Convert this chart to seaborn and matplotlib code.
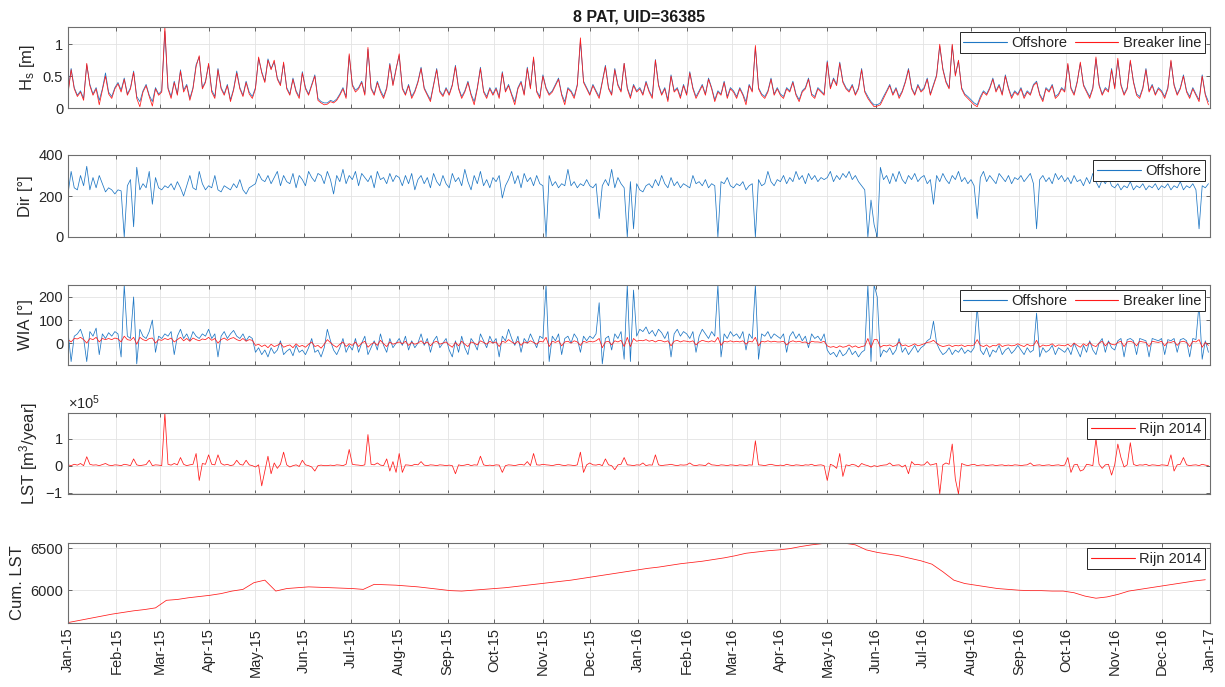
import numpy as np
import pandas as pd
import matplotlib
matplotlib.use("Agg")
import matplotlib.pyplot as plt
import matplotlib.dates as mdates
from matplotlib.lines import Line2D
from matplotlib.ticker import FormatStrFormatter
import seaborn as sns

# ---------------------------------------------------------------------------
# Wave / transport time series, 2-day samples from 2015-01-01 (one row per month)
# ---------------------------------------------------------------------------
hs_offshore = [
    0.25, 0.62, 0.32, 0.2, 0.27, 0.15, 0.68, 0.37, 0.22, 0.32, 0.12, 0.3, 0.55, 0.25, 0.18, 0.32,
    0.4, 0.28, 0.47, 0.22, 0.32, 0.58, 0.18, 0.1, 0.27, 0.37, 0.2, 0.1, 0.32, 0.22,
    0.27, 1.2, 0.32, 0.18, 0.42, 0.22, 0.6, 0.28, 0.37, 0.15, 0.32, 0.68, 0.8, 0.32, 0.42,
    0.68, 0.28, 0.18, 0.62, 0.32, 0.22, 0.37, 0.13, 0.3, 0.58, 0.32, 0.2, 0.42, 0.25, 0.18,
    0.32, 0.78, 0.57, 0.42, 0.77, 0.62, 0.72, 0.47, 0.37, 0.7, 0.32, 0.22, 0.47, 0.27, 0.18, 0.57,
    0.32, 0.22, 0.37, 0.52, 0.15, 0.1, 0.08, 0.08, 0.12, 0.1, 0.14, 0.22, 0.32, 0.18, 0.82,
    0.37, 0.28, 0.32, 0.42, 0.22, 0.92, 0.32, 0.22, 0.42, 0.28, 0.18, 0.32, 0.7, 0.37, 0.62,
    0.82, 0.32, 0.22, 0.37, 0.18, 0.27, 0.42, 0.64, 0.32, 0.22, 0.13, 0.37, 0.62, 0.27, 0.2, 0.32,
    0.22, 0.37, 0.67, 0.32, 0.18, 0.27, 0.42, 0.22, 0.1, 0.32, 0.64, 0.27, 0.18, 0.32, 0.22,
    0.32, 0.18, 0.57, 0.27, 0.37, 0.22, 0.1, 0.32, 0.42, 0.22, 0.64, 0.32, 0.78, 0.27, 0.18,
    0.52, 0.32, 0.22, 0.27, 0.37, 0.47, 0.22, 0.1, 0.32, 0.27, 0.18, 0.37, 1.05, 0.42, 0.32,
    0.22, 0.37, 0.27, 0.18, 0.42, 0.67, 0.32, 0.22, 0.62, 0.37, 0.27, 0.7, 0.32, 0.18, 0.37, 0.27,
    0.32, 0.22, 0.42, 0.27, 0.18, 0.76, 0.37, 0.22, 0.32, 0.13, 0.52, 0.27, 0.32, 0.18, 0.37,
    0.22, 0.57, 0.32, 0.18, 0.27, 0.37, 0.22, 0.47, 0.32, 0.13, 0.27, 0.22, 0.42, 0.18, 0.32,
    0.27, 0.18, 0.32, 0.22, 0.1, 0.37, 0.27, 0.95, 0.32, 0.22, 0.18, 0.27, 0.47, 0.22, 0.32,
    0.22, 0.18, 0.32, 0.27, 0.42, 0.22, 0.13, 0.27, 0.32, 0.47, 0.22, 0.18, 0.32, 0.27, 0.22,
    0.74, 0.32, 0.47, 0.37, 0.72, 0.42, 0.32, 0.27, 0.37, 0.22, 0.32, 0.62, 0.27, 0.18, 0.1, 0.05,
    0.05, 0.08, 0.18, 0.27, 0.37, 0.22, 0.32, 0.18, 0.27, 0.42, 0.62, 0.32, 0.22, 0.37, 0.27,
    0.32, 0.47, 0.22, 0.37, 0.52, 0.97, 0.62, 0.42, 0.32, 0.98, 0.52, 0.74, 0.32, 0.22, 0.18,
    0.13, 0.08, 0.05, 0.18, 0.27, 0.22, 0.32, 0.47, 0.27, 0.37, 0.22, 0.52, 0.32, 0.18, 0.27, 0.22,
    0.32, 0.18, 0.27, 0.22, 0.37, 0.42, 0.22, 0.13, 0.32, 0.27, 0.37, 0.18, 0.22, 0.32, 0.27,
    0.68, 0.32, 0.22, 0.42, 0.7, 0.37, 0.27, 0.18, 0.32, 0.77, 0.37, 0.22, 0.32, 0.27, 0.62,
    0.32, 0.75, 0.37, 0.22, 0.32, 0.73, 0.42, 0.22, 0.18, 0.32, 0.62, 0.27, 0.37, 0.22, 0.32,
    0.27, 0.18, 0.32, 0.73, 0.37, 0.22, 0.32, 0.52, 0.27, 0.18, 0.32, 0.22, 0.13, 0.52, 0.22, 0.1,
]

hs_breaker = [
    0.22, 0.6, 0.3, 0.18, 0.25, 0.12, 0.7, 0.35, 0.2, 0.3, 0.05, 0.28, 0.5, 0.22, 0.15, 0.3,
    0.38, 0.25, 0.45, 0.2, 0.3, 0.56, 0.15, 0.02, 0.25, 0.35, 0.18, 0.03, 0.3, 0.2,
    0.25, 1.27, 0.3, 0.15, 0.4, 0.2, 0.58, 0.25, 0.35, 0.12, 0.3, 0.65, 0.82, 0.3, 0.4,
    0.7, 0.25, 0.15, 0.6, 0.3, 0.2, 0.35, 0.1, 0.28, 0.55, 0.3, 0.18, 0.4, 0.22, 0.15,
    0.3, 0.8, 0.55, 0.4, 0.75, 0.6, 0.75, 0.45, 0.35, 0.72, 0.3, 0.2, 0.45, 0.25, 0.15, 0.55,
    0.3, 0.2, 0.35, 0.5, 0.12, 0.08, 0.05, 0.06, 0.1, 0.08, 0.12, 0.2, 0.3, 0.15, 0.85,
    0.35, 0.25, 0.3, 0.4, 0.2, 0.95, 0.3, 0.2, 0.4, 0.25, 0.15, 0.3, 0.68, 0.35, 0.6,
    0.85, 0.3, 0.2, 0.35, 0.15, 0.25, 0.4, 0.62, 0.3, 0.2, 0.1, 0.35, 0.6, 0.25, 0.18, 0.3,
    0.2, 0.35, 0.65, 0.3, 0.15, 0.25, 0.4, 0.2, 0.05, 0.3, 0.62, 0.25, 0.15, 0.3, 0.2,
    0.3, 0.15, 0.55, 0.25, 0.35, 0.2, 0.05, 0.3, 0.4, 0.2, 0.62, 0.3, 0.8, 0.25, 0.15,
    0.5, 0.3, 0.2, 0.25, 0.35, 0.45, 0.2, 0.05, 0.3, 0.25, 0.15, 0.35, 1.1, 0.4, 0.3,
    0.2, 0.35, 0.25, 0.15, 0.4, 0.65, 0.3, 0.2, 0.6, 0.35, 0.25, 0.7, 0.3, 0.15, 0.35, 0.25,
    0.3, 0.2, 0.4, 0.25, 0.15, 0.75, 0.35, 0.2, 0.3, 0.1, 0.5, 0.25, 0.3, 0.15, 0.35,
    0.2, 0.55, 0.3, 0.15, 0.25, 0.35, 0.2, 0.45, 0.3, 0.1, 0.25, 0.2, 0.4, 0.15, 0.3,
    0.25, 0.15, 0.3, 0.2, 0.05, 0.35, 0.25, 0.98, 0.3, 0.2, 0.15, 0.25, 0.45, 0.2, 0.3,
    0.2, 0.15, 0.3, 0.25, 0.4, 0.2, 0.1, 0.25, 0.3, 0.45, 0.2, 0.15, 0.3, 0.25, 0.2,
    0.72, 0.3, 0.45, 0.35, 0.7, 0.4, 0.3, 0.25, 0.35, 0.2, 0.3, 0.6, 0.25, 0.15, 0.08, 0.02,
    0.03, 0.05, 0.15, 0.25, 0.35, 0.2, 0.3, 0.15, 0.25, 0.4, 0.6, 0.3, 0.2, 0.35, 0.25,
    0.3, 0.45, 0.2, 0.35, 0.5, 1.0, 0.6, 0.4, 0.3, 1.0, 0.5, 0.75, 0.3, 0.2, 0.15,
    0.1, 0.05, 0.02, 0.15, 0.25, 0.2, 0.3, 0.45, 0.25, 0.35, 0.2, 0.5, 0.3, 0.15, 0.25, 0.2,
    0.3, 0.15, 0.25, 0.2, 0.35, 0.4, 0.2, 0.1, 0.3, 0.25, 0.35, 0.15, 0.2, 0.3, 0.25,
    0.7, 0.3, 0.2, 0.4, 0.72, 0.35, 0.25, 0.15, 0.3, 0.8, 0.35, 0.2, 0.3, 0.25, 0.6,
    0.3, 0.78, 0.35, 0.2, 0.3, 0.75, 0.4, 0.2, 0.15, 0.3, 0.6, 0.25, 0.35, 0.2, 0.3,
    0.25, 0.15, 0.3, 0.75, 0.35, 0.2, 0.3, 0.5, 0.25, 0.15, 0.3, 0.2, 0.1, 0.5, 0.2, 0.05,
]

dir_offshore = [
    210, 320, 240, 230, 300, 250, 345, 230, 290, 240, 300, 260, 220, 240, 230, 210,
    230, 225, 0, 250, 280, 50, 340, 230, 260, 240, 320, 160, 290, 240,
    230, 250, 240, 260, 230, 270, 240, 200, 250, 300, 240, 230, 320, 260, 230,
    250, 240, 300, 230, 220, 250, 240, 230, 260, 240, 280, 230, 210, 240, 250,
    260, 310, 280, 270, 300, 260, 290, 320, 250, 300, 270, 260, 310, 240, 300, 280,
    250, 320, 290, 270, 310, 300, 260, 320, 280, 210, 300, 270, 330, 260, 300,
    280, 320, 250, 310, 290, 270, 300, 240, 320, 280, 290, 260, 310, 270, 300,
    290, 250, 300, 260, 310, 230, 280, 300, 260, 290, 240, 310, 270, 250, 300, 260,
    240, 310, 270, 290, 250, 330, 270, 230, 300, 260, 320, 250, 280, 240, 290,
    270, 300, 190, 250, 280, 320, 260, 300, 240, 310, 270, 290, 250, 300, 260,
    250, 0, 300, 250, 270, 240, 260, 250, 330, 250, 270, 240, 260, 250, 280,
    250, 240, 260, 90, 250, 280, 250, 330, 240, 290, 260, 240, 0, 270, 40, 260,
    230, 220, 250, 260, 240, 280, 250, 300, 260, 240, 290, 250, 270, 240, 260,
    250, 240, 300, 260, 270, 250, 280, 240, 260, 250, 0, 270, 260, 290, 250,
    240, 260, 250, 270, 230, 250, 260, 0, 280, 250, 260, 320, 270, 250, 280,
    270, 300, 260, 290, 270, 320, 280, 300, 260, 310, 280, 300, 270, 290, 280,
    290, 320, 270, 300, 280, 310, 290, 320, 280, 300, 270, 250, 230, 0, 180, 60,
    0, 340, 280, 300, 260, 310, 270, 320, 280, 260, 300, 280, 310, 270, 290,
    300, 260, 280, 160, 300, 270, 310, 280, 260, 300, 280, 320, 270, 290, 260,
    280, 250, 90, 290, 320, 270, 300, 280, 260, 310, 290, 270, 300, 260, 290, 280,
    300, 270, 290, 310, 260, 40, 280, 300, 270, 290, 260, 310, 280, 300, 270,
    290, 260, 300, 270, 280, 250, 290, 260, 310, 270, 240, 280, 260, 290, 250,
    240, 260, 230, 250, 240, 270, 230, 250, 240, 260, 230, 250, 240, 260, 230,
    250, 240, 260, 230, 250, 240, 270, 230, 250, 240, 260, 230, 40, 250, 240, 260,
]

wia_offshore = [
    50, -80, 30, 40, 60, 20, -80, 50, 30, 65, -50, 40, 20, 45, 30, 50,
    40, -60, 252, 30, 20, 200, -90, 60, 30, 20, 50, 100, -40, 30,
    20, 40, 30, 50, -50, 30, 60, 20, 40, 10, 50, 30, 20, 40, 30,
    60, 20, 40, -60, 30, 50, 20, 40, 55, 30, 20, 40, 10, 30, 20,
    -40, -20, -50, -30, -60, -20, -45, -30, 10, -50, -35, -25, -55, -10, -40, -30,
    -50, -20, 20, -40, -30, -60, -20, 60, 10, -30, -50, -20, 20, -40, -10,
    -30, 20, -40, 0, 30, -50, -20, 10, -30, 40, -10, -40, 20, -20, 0,
    20, -10, 30, -30, 10, -20, 0, 40, -10, 20, -40, 10, 30, -20, 0, 20,
    -30, -60, 10, -40, 30, -20, -50, 20, 0, -30, 40, 10, -20, 30, 0,
    20, -60, 30, 10, 60, 20, -10, 30, -40, 20, 0, 40, 10, -20, 30,
    20, 252, -80, 30, 10, 40, -50, 20, 30, 0, 40, 20, -40, 30, 10,
    30, 20, 40, 175, -90, 20, 30, -30, 40, 20, 50, -70, 252, -80, 230, 30,
    60, 50, 70, 40, 55, 30, 60, 45, 20, 50, -60, 40, 60, 30, 50,
    40, 20, 50, -40, 30, 60, 40, 20, 50, 30, 252, -60, 40, 20, 50,
    30, 40, 20, 50, -30, 40, 20, 252, -70, 40, 30, 50, 20, 40, 30,
    20, 40, -40, 30, 50, 20, 40, 10, 30, -20, 40, 20, 30, 10, 40,
    -30, -50, -40, -60, -30, -55, -45, -20, -50, -35, -60, -40, -30, 252, -80, 252,
    200, -60, -30, -40, -20, -50, -30, 20, -40, -20, -50, -30, -10, -40, -20,
    -10, 10, 20, 95, 0, -30, -50, -40, -20, -50, -30, -40, -20, -45, -30,
    -40, -20, 160, -30, -50, -20, -60, -30, -40, -10, -50, -30, -20, -45, -30, -10,
    -30, -50, -20, -40, -30, 130, -60, -20, -40, -30, -10, -50, -20, -30, -40,
    -20, -50, 0, -30, -60, -10, -40, 10, -30, -50, 0, 20, -40, 10, -20,
    -30, 10, 20, -60, 15, 20, 10, -50, 20, 15, 10, -60, 20, 15, 10,
    20, -50, 15, 10, 20, -40, 15, 20, 10, -60, 20, 15, 170, -70, 10, -40,
]

wia_breaker = [
    15, 5, 20, 18, 25, 15, 0, 20, 15, 25, 5, 20, 15, 20, 15, 22,
    18, 5, 30, 15, 12, 25, -5, 25, 15, 10, 20, 22, 0, 15,
    12, 20, 15, 22, 5, 15, 25, 10, 20, 8, 22, 15, 10, 18, 15,
    25, 12, 20, 0, 15, 22, 12, 20, 24, 15, 10, 20, 8, 15, 12,
    -10, -5, -15, -8, -20, -5, -15, -10, 0, -18, -12, -8, -20, -3, -15, -10,
    -18, -5, 5, -15, -10, -22, -5, 15, 2, -10, -18, -5, 5, -15, -3,
    -10, 5, -15, 0, 8, -18, -5, 3, -10, 12, -3, -15, 5, -5, 0,
    5, -3, 8, -10, 3, -5, 0, 10, -3, 5, -12, 3, 8, -5, 0, 5,
    -8, -18, 3, -12, 8, -5, -15, 5, 0, -8, 10, 3, -5, 8, 0,
    5, -15, 8, 3, 15, 5, -3, 8, -10, 5, 0, 10, 3, -5, 8,
    5, 25, -15, 8, 3, 10, -12, 5, 8, 0, 10, 5, -10, 8, 3,
    8, 5, 10, 20, -20, 5, 8, -8, 10, 5, 12, -15, 25, -15, 20, 8,
    12, 10, 15, 8, 12, 5, 12, 10, 5, 10, -12, 8, 12, 5, 10,
    8, 5, 10, -8, 5, 12, 8, 5, 10, 5, 25, -10, 8, 5, 10,
    5, 8, 5, 10, -5, 8, 5, 25, -12, 8, 5, 10, 5, 8, 5,
    5, 8, -8, 5, 10, 5, 8, 3, 5, -3, 8, 5, 5, 3, 8,
    -12, -18, -15, -20, -12, -18, -15, -8, -18, -12, -20, -15, -12, 20, -20, 15,
    15, -18, -10, -12, -8, -15, -10, 5, -12, -8, -15, -10, -3, -12, -8,
    -3, 3, 5, 12, 0, -10, -15, -12, -8, -15, -10, -12, -8, -15, -10,
    -12, -8, 15, -10, -15, -8, -18, -10, -12, -3, -15, -10, -8, -12, -10, -3,
    -10, -15, -5, -12, -10, 12, -18, -8, -12, -10, -3, -15, -8, -10, -12,
    -5, -15, 0, -10, -18, -3, -12, 3, -10, -15, 0, 8, -12, 3, -5,
    -8, 3, 8, -15, 5, 8, 3, -12, 8, 5, 3, -15, 8, 5, 3,
    8, -12, 5, 3, 8, -10, 5, 8, 3, -15, 8, 5, 15, -18, 3, -10,
]

# Longshore transport, thousands of m3/year
lst_rijn_k = [
    3, 0, 5, 2, 8, 0, 33, 5, 2, 3, 0, 4, 8, 2, 0, 3,
    2, 0, 5, 3, 0, 25, 3, 0, 2, 4, 20, 0, 3, 2,
    0, 195, 5, 2, 8, 3, 30, 5, 0, 3, 5, 45, -55, 8, 5,
    40, 5, 3, 40, 8, 2, 5, 0, 3, 20, 5, 2, 20, 3, 0,
    -5, 3, -75, -20, 35, -30, 10, -10, 5, 50, 3, -5, 0, 3, -3, 20,
    3, 0, -5, -20, 0, 2, 0, 0, 2, 0, 3, 2, 0, 5, 60,
    5, 3, 2, 0, 3, 115, 5, 3, 10, 2, 0, 25, -20, 15, -25,
    45, -25, 3, 2, 0, 5, 3, 15, 2, 0, 3, 2, 0, 3, 2, 0,
    2, 0, -30, 3, 0, 2, 5, 0, 3, 2, 35, 3, 0, 2, 0,
    3, 2, -25, 0, 3, 2, 0, 3, 5, 2, 15, 0, 45, 3, 2,
    5, 3, 2, 0, 3, 5, 2, 0, 3, 2, 0, 3, 50, -25, 3,
    10, 3, 2, 5, 0, 25, 3, 0, -15, 3, 5, 30, 3, 2, 0, 3,
    2, 10, 0, 3, 2, 40, 3, 0, 2, 3, 5, 2, 0, 3, 2,
    3, 10, 2, 0, 3, 2, 0, 10, 3, 2, 0, 3, 2, 0, 3,
    2, 0, 3, 2, 0, 3, 2, 92, 3, 2, 0, 3, 5, 2, 0,
    2, 0, 5, 2, 0, 3, 2, 0, 3, 2, 5, 0, 2, 3, 0,
    -55, 5, 0, -10, 45, -40, 3, 0, 5, 2, -5, 8, 3, 0, -5, 0,
    -3, 0, 2, 3, 10, 0, 2, 3, -5, 2, -30, 15, 3, 5, 2,
    3, 15, 2, 5, 8, -105, 3, 10, 5, 80, -50, -105, 8, 3, 0,
    3, 5, 0, 2, 3, 0, 2, 3, 0, 2, 3, 0, 2, 0, 3, 2,
    0, 2, 3, 10, 0, 2, 3, 0, 2, 3, 0, 2, 3, 0, 2,
    30, -25, 3, 5, -20, -15, 5, 3, 0, 100, 5, -10, 3, 5, -35,
    3, 80, 30, -5, 3, 85, 5, 0, 3, 2, 5, 0, 3, 2, 0,
    3, 2, 0, 40, -20, 3, 5, 30, 3, 0, 2, 3, 0, 5, 2, 0,
]

# Cumulative longshore transport, weekly samples from 2015-01-01
cum_lst_rijn = [
    5615, 5640, 5665, 5690, 5715, 5735, 5755, 5770, 5790,
    5880, 5890, 5910, 5925, 5940, 5960, 5990, 6010,
    6090, 6120, 5990, 6020, 6030, 6040, 6035, 6030, 6025,
    6020, 6010, 6070, 6065, 6060, 6050, 6040, 6025,
    6010, 5995, 5990, 6000, 6010, 6020, 6030, 6045, 6060,
    6075, 6090, 6105, 6120, 6140, 6160, 6180, 6200, 6220,
    6240, 6260, 6275, 6295, 6315, 6330, 6345, 6365,
    6385, 6410, 6440, 6455, 6470, 6480, 6495, 6520, 6540,
    6555, 6555, 6560, 6540, 6480, 6450, 6430, 6410, 6380,
    6350, 6310, 6220, 6120, 6080, 6060, 6040, 6020, 6010,
    6000, 5995, 5995, 5990, 5990, 5970, 5930, 5905,
    5920, 5950, 5990, 6010, 6030, 6050, 6070, 6090, 6110, 6125,
]

title_text = "8 PAT, UID=36385"
ylabels = ["H$_\\mathregular{s}$ [m]", "Dir [\u00b0]", "WIA [\u00b0]",
           "LST [m$^\\mathregular{3}$/year]", "Cum. LST"]

# ---------------------------------------------------------------------------
sns.set_style("ticks")
plt.rcParams.update({
    "mathtext.fontset": "custom",
    "mathtext.rm": "Liberation Sans",
    "mathtext.it": "Liberation Sans:italic",
    "mathtext.bf": "Liberation Sans:bold",
    "axes.unicode_minus": False,
    "axes.edgecolor": "#4d4d4d",
    "axes.linewidth": 0.8,
})
plt.rcParams["font.family"] = ["Liberation Sans", "DejaVu Sans"]

BLUE = "#1f77c4"
RED = "#FF1A1A"
LW = 0.55


def series(values, step="2D", scale=1.0):
    return pd.DataFrame({
        "date": pd.date_range("2015-01-01", periods=len(values), freq=step),
        "v": np.asarray(values, dtype=float) * scale,
    })


W, H = 1225, 687
fig = plt.figure(figsize=(W / 100, H / 100), dpi=100)
left, right = 68, 1210
panel_px = [(27, 108), (155, 237), (285, 365), (413, 494), (543, 623)]
axes = [fig.add_axes([left / W, 1 - b / H, (right - left) / W, (b - t) / H]) for t, b in panel_px]

# (axis index, data, colour, legend label)
layers = [
    (0, series(hs_offshore), BLUE, "Offshore"),
    (0, series(hs_breaker), RED, "Breaker line"),
    (1, series(dir_offshore), BLUE, "Offshore"),
    (2, series(wia_offshore), BLUE, "Offshore"),
    (2, series(wia_breaker), RED, "Breaker line"),
    (3, series(lst_rijn_k, scale=1e3), RED, "Rijn 2014"),
    (4, series(cum_lst_rijn, step="7D"), RED, "Rijn 2014"),
]
legend_items = {i: [] for i in range(5)}
for idx, df, col, lab in layers:
    sns.lineplot(data=df, x="date", y="v", ax=axes[idx], color=col, lw=LW, legend=False)
    legend_items[idx].append((Line2D([], [], color=col, lw=0.8), lab))

month_ticks = pd.date_range("2015-01-01", "2017-01-01", freq="MS")
xlo, xhi = pd.Timestamp("2015-01-01"), pd.Timestamp("2017-01-01")
ylims = [(0, 1.27), (0, 400), (-95, 252), (-1.05e5, 1.95e5), (5610, 6562)]
yticks = [[0, 0.5, 1], [0, 200, 400], [0, 100, 200], [-1e5, 0, 1e5], [6000, 6500]]

for i, ax in enumerate(axes):
    ax.set_xlim(xlo, xhi)
    ax.set_ylim(*ylims[i])
    ax.set_yticks(yticks[i])
    if i != 3:
        ax.yaxis.set_major_formatter(FormatStrFormatter("%g"))
    ax.set_xticks(month_ticks)
    ax.xaxis.set_major_formatter(mdates.DateFormatter("%b-%y"))
    ax.grid(True, color="#e3e3e3", lw=0.6)
    ax.set_axisbelow(True)
    ax.tick_params(direction="in", top=True, right=True, length=3, width=0.6,
                   colors="#4d4d4d", labelcolor="#262626", labelsize=10.5)
    ax.set_xlabel("")
    ax.set_ylabel(ylabels[i], fontsize=12, color="#262626")
    for s in ax.spines.values():
        s.set_visible(True)
        s.set_color("#6e6e6e")
    if i < 4:
        ax.tick_params(labelbottom=False)
    else:
        for lab in ax.get_xticklabels():
            lab.set_rotation(90)
    handles, labels = zip(*legend_items[i])
    leg = ax.legend(handles, labels, loc="upper right", ncol=len(handles), fontsize=10.5,
                    frameon=True, fancybox=False, edgecolor="#262626", framealpha=1,
                    handlelength=3.0, handletextpad=0.3, columnspacing=0.5,
                    borderpad=0.25, borderaxespad=0.35)
    leg.get_frame().set_linewidth(0.7)

axes[3].ticklabel_format(axis="y", style="sci", scilimits=(0, 0), useMathText=True)
axes[3].yaxis.get_offset_text().set_fontsize(10.5)
axes[3].yaxis.get_offset_text().set_color("#262626")

axes[0].set_title(title_text, fontsize=11.5, fontweight="bold", pad=4, color="#1a1a1a")
fig.align_ylabels(axes)

fig.savefig("out.png", dpi=100, facecolor="white")
